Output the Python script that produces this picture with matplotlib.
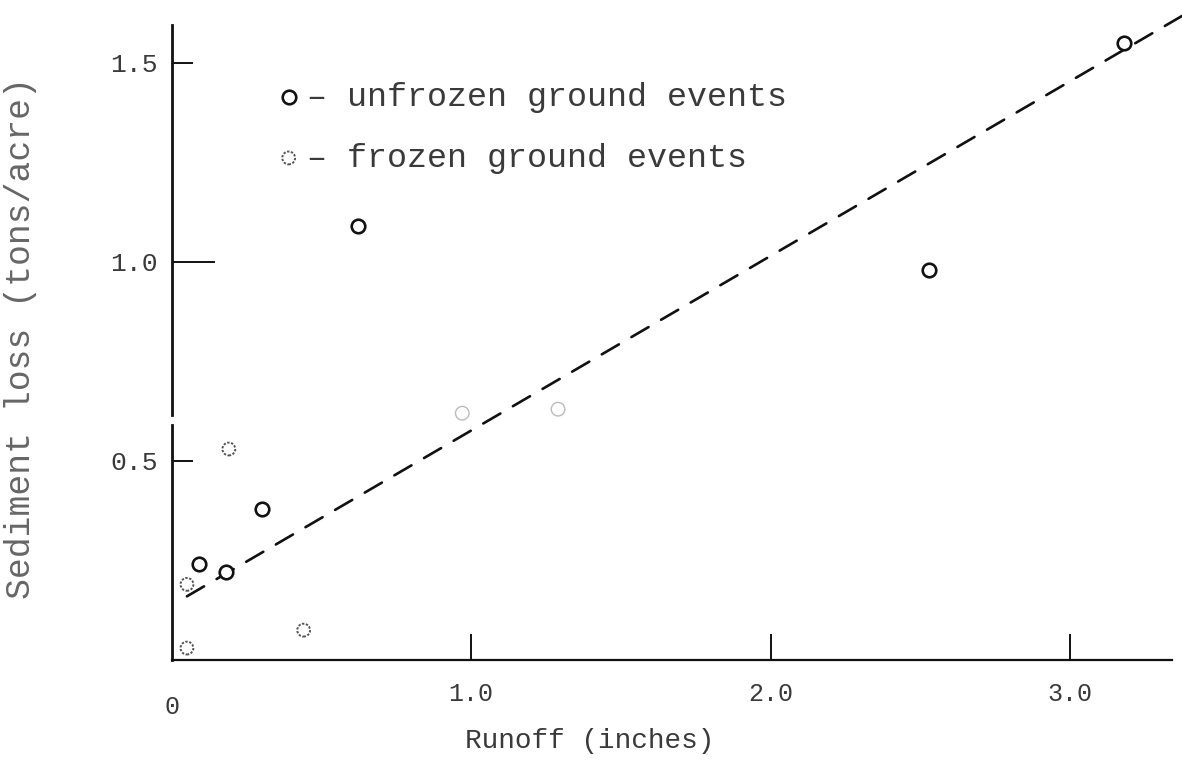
import matplotlib
matplotlib.use("Agg")
import matplotlib.pyplot as plt

# --- data ---
unfrozen_x = [0.09, 0.18, 0.30, 0.62, 2.53, 3.18]
unfrozen_y = [0.24, 0.22, 0.38, 1.09, 0.98, 1.55]

# two unfrozen points that are nearly lost in the scan
faint_x = [0.97, 1.29]
faint_y = [0.62, 0.63]

frozen_x = [0.05, 0.05, 0.19, 0.44]
frozen_y = [0.03, 0.19, 0.53, 0.075]

# dashed trend line (end points)
trend_x = [0.05, 3.38]
trend_y = [0.16, 1.62]

x_ticks = [0, 1.0, 2.0, 3.0]
x_tick_labels = ['0', '1.0', '2.0', '3.0']
y_ticks = [0.5, 1.0, 1.5]
y_tick_labels = ['0.5', '1.0', '1.5']

FONT = 'Liberation Mono'
INK = '#111111'
TEXT = '#3a3a3a'

fig = plt.figure(figsize=(11.82, 7.68), dpi=100)
ax = fig.add_axes([0.1455, 0.1406, 0.8545, 0.8294])

ax.set_xlim(0, 3.375)
ax.set_ylim(0, 1.6)

# trend line
ax.plot(trend_x, trend_y, color=INK, lw=1.9, linestyle=(0, (7.5, 5.5)),
        dash_capstyle='round', clip_on=False)

# points
unf = ax.scatter(unfrozen_x, unfrozen_y, s=95, facecolors='white',
                 edgecolors=INK, linewidths=1.9, zorder=3, clip_on=False)
ax.scatter(faint_x, faint_y, s=95, facecolors='none',
           edgecolors='#bbbbbb', linewidths=1.0, zorder=3)
frz = ax.scatter(frozen_x, frozen_y, s=85, facecolors='white',
                 edgecolors='#555555', linewidths=1.4,
                 linestyle=(0, (1.2, 0.8)), zorder=3, clip_on=False)

# axes in the hand-drawn style
for side in ['top', 'right', 'left']:
    ax.spines[side].set_visible(False)
ax.spines['bottom'].set_bounds(0, 3.34)
ax.spines['bottom'].set_linewidth(1.6)
ax.spines['bottom'].set_color(INK)
# left axis has a small break just above 0.5
ax.axvline(0, ymin=0, ymax=0.59 / 1.6, color=INK, lw=2.0, clip_on=False)
ax.axvline(0, ymin=0.615 / 1.6, ymax=1.595 / 1.6, color=INK, lw=2.0, clip_on=False)

ax.set_xticks(x_ticks)
ax.set_xticklabels(x_tick_labels, fontfamily=FONT, fontsize=18, color=TEXT)
ax.set_yticks(y_ticks)
ax.set_yticklabels(y_tick_labels, fontfamily=FONT, fontsize=19, color=TEXT)
ax.tick_params(axis='x', direction='in', length=19, width=1.4, color=INK, pad=16)
ax.tick_params(axis='y', direction='in', length=15, width=1.4, color=INK, pad=10)

# no tick mark at the origin, longer tick at 1.0
xt = ax.xaxis.get_major_ticks()
xt[0].tick1line.set_visible(False)
xt[0].label1.set_y(-0.02)
yt = ax.yaxis.get_major_ticks()
yt[1].tick1line.set_markersize(31)

ax.set_xlabel('Runoff (inches)', fontfamily=FONT, fontsize=20, color=TEXT)
ax.xaxis.set_label_coords(0.414, -0.106)
ax.set_ylabel('Sediment loss (tons/acre)', fontfamily=FONT, fontsize=25,
              color='#666666')
ax.yaxis.set_label_coords(-0.134, 0.505)

leg = ax.legend([unf, frz], ['\u2013 unfrozen ground events', '\u2013 frozen ground events'],
                loc='upper left', bbox_to_anchor=(0.071, 0.955), frameon=False,
                prop={'family': FONT, 'size': 24}, handletextpad=0.1,
                labelspacing=0.9, markerscale=1.0, handlelength=0.9)
for t in leg.get_texts():
    t.set_color(TEXT)

fig.savefig('out.png', dpi=100, facecolor='white')
